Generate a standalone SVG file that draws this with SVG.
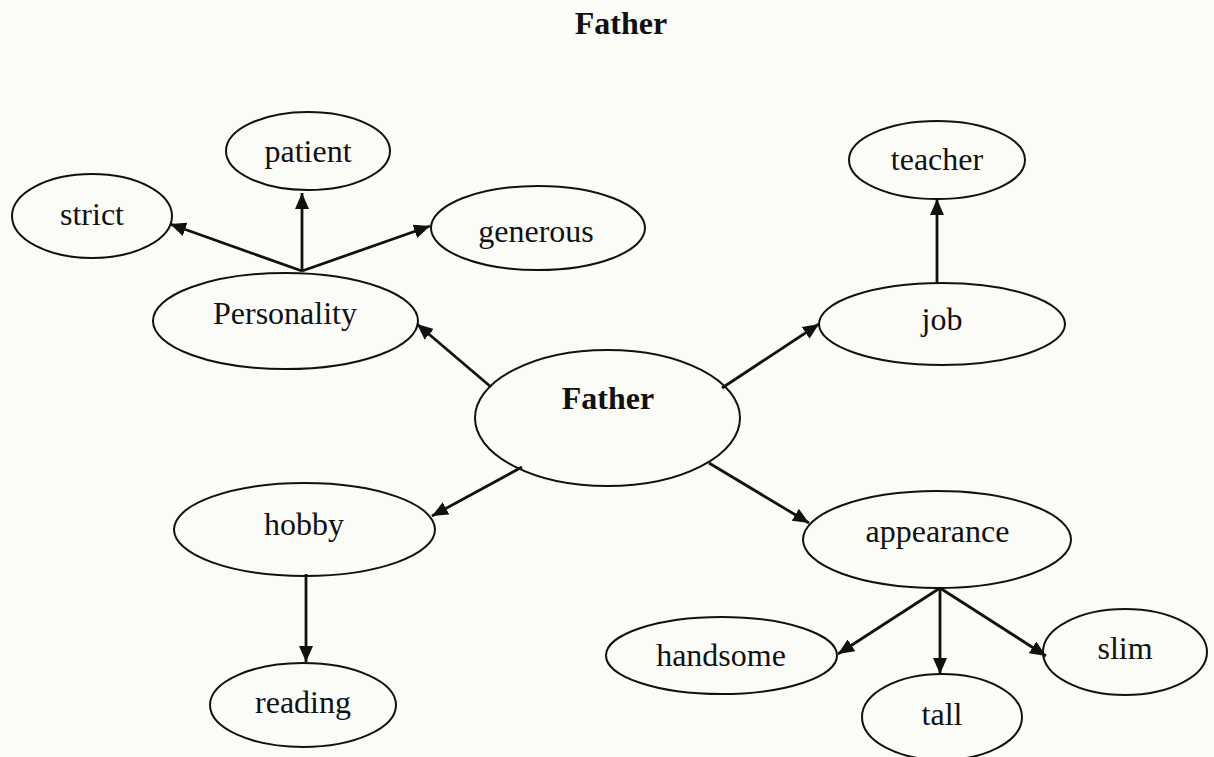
<svg xmlns="http://www.w3.org/2000/svg" width="1214" height="757" viewBox="0 0 1214 757">
  <style>
    .node ellipse { fill: none; stroke: #111; stroke-width: 2; }
    .node text { font-family: "Liberation Serif", "Times New Roman", serif; font-size: 32px; fill: #111; text-anchor: middle; }
    .bold { font-weight: bold; }
    .edges line { stroke: #111; stroke-width: 2.8; marker-end: url(#arrow); }
    .title { font-family: "Liberation Serif", "Times New Roman", serif; font-size: 32px; font-weight: bold; fill: #111; text-anchor: middle; }
  </style>
  <defs>
    <marker id="arrow" markerUnits="userSpaceOnUse" markerWidth="18" markerHeight="14" refX="16" refY="7" orient="auto">
      <path d="M0,0 L16,7 L0,14 z" fill="#111"/>
    </marker>
  </defs>

  <rect x="0" y="0" width="1214" height="757" fill="#fbfcf8"/>

  <text class="title" x="621" y="34">Father</text>

  <!-- connectors -->
  <g class="edges">
    <line x1="302" y1="271" x2="170" y2="224"/>
    <line x1="302" y1="271" x2="302" y2="193"/>
    <line x1="302" y1="271" x2="430" y2="226"/>
    <line x1="491" y1="387" x2="417" y2="324"/>
    <line x1="722" y1="388" x2="819" y2="324"/>
    <line x1="522" y1="467" x2="432" y2="516"/>
    <line x1="709" y1="463" x2="809" y2="523"/>
    <line x1="937" y1="283" x2="937" y2="199"/>
    <line x1="306" y1="574" x2="306" y2="662"/>
    <line x1="940" y1="588" x2="838" y2="654"/>
    <line x1="940" y1="588" x2="940" y2="674"/>
    <line x1="940" y1="588" x2="1046" y2="656"/>
  </g>

  <!-- nodes -->
  <g id="father" class="node">
    <ellipse cx="607.5" cy="418" rx="132.5" ry="68"/>
    <text class="bold" x="608" y="409">Father</text>
  </g>
  <g id="personality" class="node">
    <ellipse cx="285.5" cy="321" rx="132.5" ry="48"/>
    <text x="285" y="324">Personality</text>
  </g>
  <g id="strict" class="node">
    <ellipse cx="92" cy="216" rx="80" ry="42"/>
    <text x="92" y="225">strict</text>
  </g>
  <g id="patient" class="node">
    <ellipse cx="308" cy="151" rx="82" ry="39"/>
    <text x="308" y="162">patient</text>
  </g>
  <g id="generous" class="node">
    <ellipse cx="538" cy="228" rx="107" ry="42"/>
    <text x="536" y="242">generous</text>
  </g>
  <g id="job" class="node">
    <ellipse cx="942" cy="324" rx="123" ry="41"/>
    <text x="942" y="330">job</text>
  </g>
  <g id="teacher" class="node">
    <ellipse cx="937" cy="160" rx="88" ry="39"/>
    <text x="937" y="170">teacher</text>
  </g>
  <g id="hobby" class="node">
    <ellipse cx="304.5" cy="529.5" rx="130.5" ry="46.5"/>
    <text x="304" y="535">hobby</text>
  </g>
  <g id="reading" class="node">
    <ellipse cx="303" cy="705" rx="93" ry="42"/>
    <text x="303" y="713">reading</text>
  </g>
  <g id="appearance" class="node">
    <ellipse cx="937" cy="539.5" rx="134" ry="48.5"/>
    <text x="937.5" y="542">appearance</text>
  </g>
  <g id="handsome" class="node">
    <ellipse cx="721.5" cy="655.5" rx="115.5" ry="38.5"/>
    <text x="721" y="666">handsome</text>
  </g>
  <g id="tall" class="node">
    <ellipse cx="942" cy="717" rx="80" ry="43"/>
    <text x="942" y="725">tall</text>
  </g>
  <g id="slim" class="node">
    <ellipse cx="1125" cy="652" rx="82" ry="43"/>
    <text x="1125" y="659">slim</text>
  </g>
</svg>
